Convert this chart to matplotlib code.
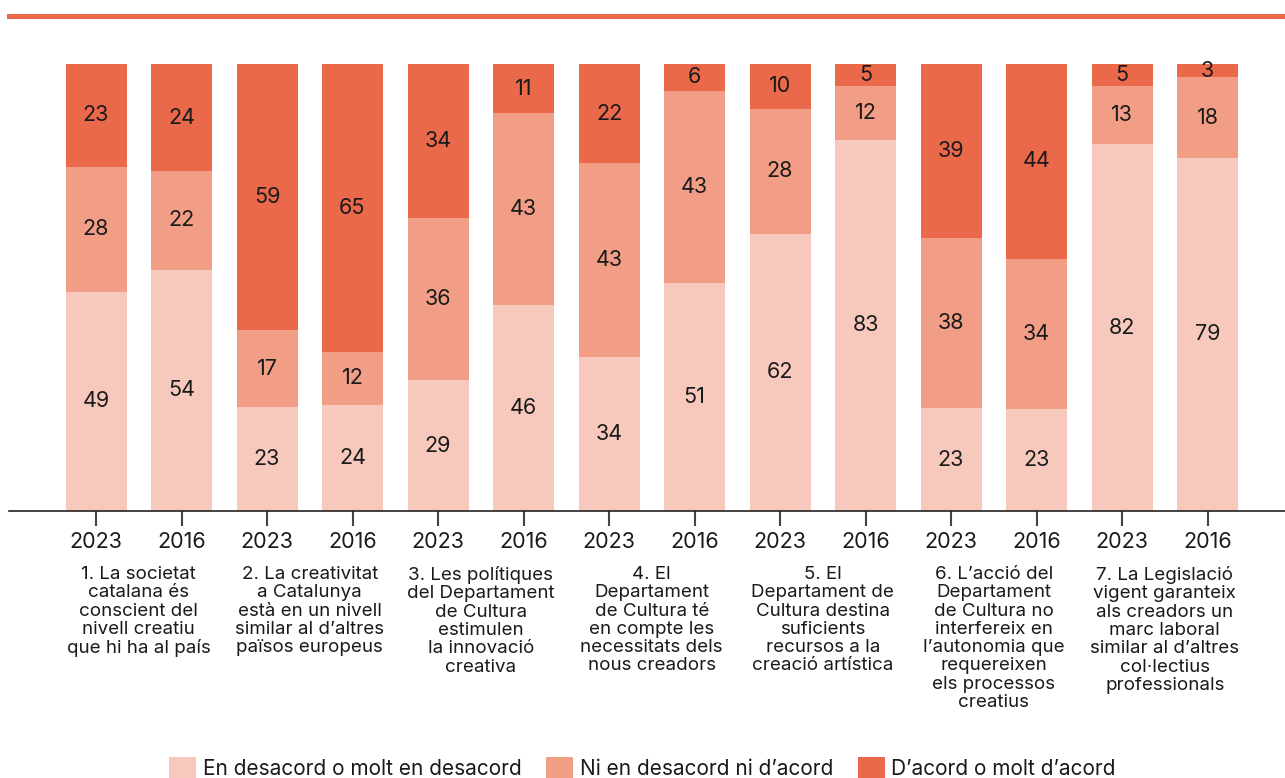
import numpy as np
import matplotlib.pyplot as plt
from matplotlib.patches import Patch
from matplotlib.lines import Line2D

plt.rcParams['font.family'] = ['Inter', 'DejaVu Sans']

years = ['2023', '2016'] * 7
desacord = [49, 54, 23, 24, 29, 46, 34, 51, 62, 83, 23, 23, 82, 79]
ni = [28, 22, 17, 12, 36, 43, 43, 43, 28, 12, 38, 34, 13, 18]
acord = [23, 24, 59, 65, 34, 11, 22, 6, 10, 5, 39, 44, 5, 3]
categories = [
    "1. La societat\ncatalana és\nconscient del\nnivell creatiu\nque hi ha al país",
    "2. La creativitat\na Catalunya\nestà en un nivell\nsimilar al d’altres\npaïsos europeus",
    "3. Les polítiques\ndel Departament\nde Cultura\nestimulen\nla innovació\ncreativa",
    "4. El\nDepartament\nde Cultura té\nen compte les\nnecessitats dels\nnous creadors",
    "5. El\nDepartament de\nCultura destina\nsuficients\nrecursos a la\ncreació artística",
    "6. L’acció del\nDepartament\nde Cultura no\ninterfereix en\nl’autonomia que\nrequereixen\nels processos\ncreatius",
    "7. La Legislació\nvigent garanteix\nals creadors un\nmarc laboral\nsimilar al d’altres\ncol·lectius\nprofessionals",
]
legend_labels = ['En desacord o molt en desacord', 'Ni en desacord ni d’acord', 'D’acord o molt d’acord']
colors = ['#F7C9BC', '#F29E87', '#E9694A']

W, H = 1285, 778
fig = plt.figure(figsize=(W / 100, H / 100), dpi=100)
ax = fig.add_axes([9 / W, 1 - 511 / H, 1276 / W, 447 / H])

x = np.arange(len(years))
d = np.array(desacord, float)
n = np.array(ni, float)
a = np.array(acord, float)
tot = d + n + a
segs = [d / tot * 100, n / tot * 100, a / tot * 100]
raw = [d, n, a]

bottom = np.zeros(len(x))
for s, r, c in zip(segs, raw, colors):
    ax.bar(x, s, bottom=bottom, width=61 / 85.5, color=c, linewidth=0)
    for xi, b, h, v in zip(x, bottom, s, r):
        ax.text(xi, b + h / 2, f"{int(v)}", ha='center', va='center',
                fontsize=15.5, color='#1a1a1a')
    bottom += s

ax.set_xlim((9 - 96) / 85.5, (1285 - 96) / 85.5)
ax.set_ylim(0, 100)
for sp in ['top', 'right', 'left']:
    ax.spines[sp].set_visible(False)
ax.spines['bottom'].set_color('#222222')
ax.spines['bottom'].set_linewidth(1.2)
ax.set_yticks([])
ax.set_xticks(x)
ax.set_xticklabels(years, fontsize=15.5, color='#1a1a1a')
ax.tick_params(axis='x', length=11, width=1.5, color='#444444', pad=4)

for i, cat in enumerate(categories):
    xc = (96 + 85.5 * (2 * i + 0.5)) / W
    fig.text(xc, 1 - 566 / H, cat, ha='center', va='top', fontsize=13.5,
             color='#1a1a1a', linespacing=1.1)

fig.add_artist(Line2D([9 / W, 1], [1 - 16 / H, 1 - 16 / H], color='#E9694A',
                      linewidth=3.6, transform=fig.transFigure))

handles = [Patch(facecolor=c, edgecolor='none') for c in colors]
fig.legend(handles, legend_labels, loc='center', bbox_to_anchor=(0.5, 1 - 768 / H),
           ncol=3, frameon=False, fontsize=15, handlelength=1.3, handleheight=1.3,
           handletextpad=0.3, columnspacing=1.2, labelcolor='#1a1a1a')

fig.savefig('out.png', dpi=100)
